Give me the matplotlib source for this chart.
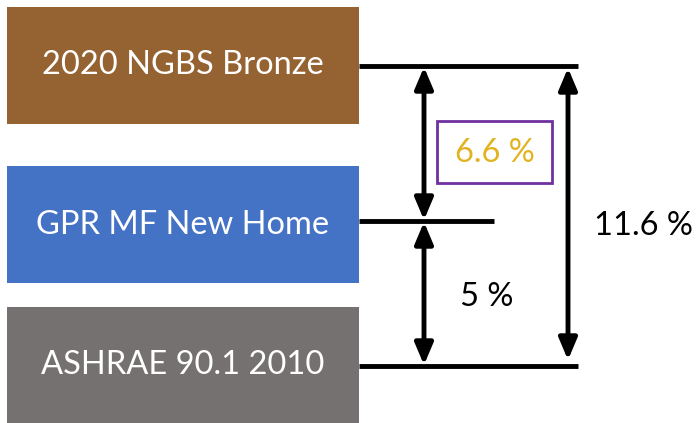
import matplotlib
matplotlib.use('Agg')
import matplotlib.pyplot as plt
from matplotlib.patches import Rectangle

# data
labels = ['2020 NGBS Bronze', 'GPR MF New Home', 'ASHRAE 90.1 2010']
colors = ['#956232', '#4472C4', '#767171']
savings_upper = 6.6   # NGBS Bronze vs GPR
savings_lower = 5     # GPR vs ASHRAE
savings_total = 11.6  # NGBS Bronze vs ASHRAE

W, H = 696, 423
fig = plt.figure(figsize=(W / 100, H / 100), dpi=100)
ax = fig.add_axes([0, 0, 1, 1])
ax.set_xlim(0, W)
ax.set_ylim(H, 0)
ax.axis('off')

font = 'Lato'
fs = 23.5

# boxes (pixel layout)
box_x0, box_x1 = 7, 359
box_tops = [7, 166, 307]
box_h = 117
level_y = [66, 221, 366]
for lab, col, top in zip(labels, colors, box_tops):
    ax.add_patch(Rectangle((box_x0, top), box_x1 - box_x0, box_h, facecolor=col,
                           edgecolor='none'))
    ax.text((box_x0 + box_x1) / 2, top + box_h / 2, lab, color='white', fontsize=fs,
            family=font, ha='center', va='center')

# horizontal reference lines
line_ends = [578, 494, 578]
for y, xe in zip(level_y, line_ends):
    ax.plot([box_x1, xe], [y, y], color='black', lw=3.5, solid_capstyle='butt')

def double_arrow(x, y0, y1):
    ax.annotate('', xy=(x, y0), xytext=(x, y1),
                arrowprops=dict(arrowstyle='<|-|>,head_length=1.3,head_width=0.55',
                                color='black', lw=3.5, shrinkA=0, shrinkB=0))

double_arrow(424, level_y[0] + 1, level_y[1] - 1)
double_arrow(424, level_y[1] + 1, level_y[2] - 1)
double_arrow(568, level_y[0] + 2, level_y[2] - 6)

# labels
ax.add_patch(Rectangle((437, 121), 115, 62, facecolor='white', edgecolor='#7030A0',
                       lw=2))
ax.text(494.5, 153, f'{savings_upper} %', color='#E2B320', fontsize=fs, family=font,
        ha='center', va='center')
ax.text(487, 297, f'{savings_lower} %', color='black', fontsize=fs, family=font,
        ha='center', va='center')
ax.text(643, 226, f'{savings_total} %', color='black', fontsize=fs, family=font,
        ha='center', va='center')

fig.savefig('out.png', dpi=100)
